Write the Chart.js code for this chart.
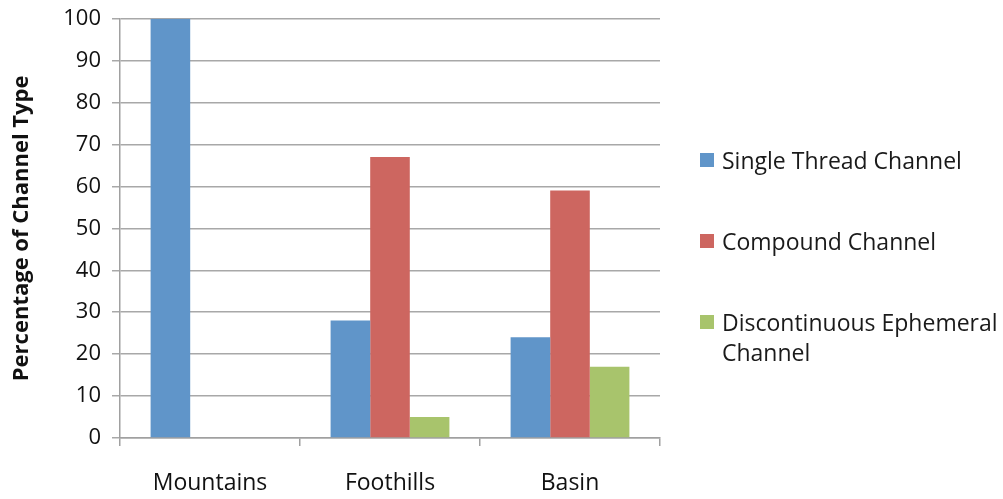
<!DOCTYPE html>
<html>
<head>
<meta charset="utf-8">
<script src="https://cdn.jsdelivr.net/npm/chart.js@4"></script>
<style>
  html, body { margin:0; padding:0; background:#fff; }
  #wrap { position:relative; width:1003px; height:499px; }
  #legend { position:absolute; left:700px; top:0; font-family:"Open Sans", sans-serif; font-size:23px; color:#1a1a1a; }
  .item { position:absolute; left:0; white-space:nowrap; line-height:30px; }
  .sw { position:absolute; left:0; top:8px; width:14px; height:14px; }
  .txt { position:absolute; left:22px; top:0; }
</style>
</head>
<body>
<div id="wrap">
  <canvas id="c" width="1003" height="499"></canvas>
  <div id="legend"></div>
</div>
<script>
const categories = ["Mountains", "Foothills", "Basin"];
const seriesNames = ["Single Thread Channel", "Compound Channel", ["Discontinuous Ephemeral", "Channel"]];
const singleThread = [100, 28, 24];
const compound = [0, 67, 59];
const discontinuous = [0, 5, 17];
const colors = ["#6095c9", "#cd6660", "#a8c46c"];
const yTitle = "Percentage of Channel Type";

const FONT = '"Open Sans", sans-serif';
const seriesData = [singleThread, compound, discontinuous];

const chart = new Chart(document.getElementById('c'), {
  type: 'bar',
  data: {
    labels: categories,
    datasets: seriesData.map((d, i) => ({
      label: Array.isArray(seriesNames[i]) ? seriesNames[i].join(' ') : seriesNames[i],
      data: d,
      backgroundColor: colors[i],
      borderWidth: 0,
      barPercentage: 1.0,
      categoryPercentage: 0.66
    }))
  },
  options: {
    responsive: false,
    animation: false,
    devicePixelRatio: 1,
    layout: { padding: { left: 0, right: 343, top: 15, bottom: 0 } },
    plugins: { legend: { display: false }, tooltip: { enabled: false } },
    scales: {
      x: {
        offset: true,
        grid: { offset: true, drawOnChartArea: false, drawTicks: true, tickLength: 8, color: '#a0a0a0', lineWidth: 1.5 },
        border: { color: '#a0a0a0', width: 1.5 },
        ticks: { font: { family: FONT, size: 23, lineHeight: 1.2 }, color: '#111', padding: 24 },
        afterFit: (s) => { s.height = 61; }
      },
      y: {
        min: 0, max: 100,
        ticks: { stepSize: 10, font: { family: FONT, size: 22, lineHeight: 0.7 }, color: '#111', padding: 11 },
        grid: { color: '#a8a8a8', lineWidth: 1.5, tickLength: 8 },
        border: { color: '#a0a0a0', width: 1.5 },
        title: { display: true, text: yTitle, font: { family: FONT, size: 22, weight: 'bold' }, color: '#111', padding: { top: 9, bottom: 4 } },
        afterFit: (s) => { s.width = 120; }
      }
    }
  }
});

// HTML legend built from the dataset arrays
const legend = document.getElementById('legend');
const tops = [145, 226, 307];
seriesNames.forEach((n, i) => {
  const it = document.createElement('div');
  it.className = 'item';
  it.style.top = tops[i] + 'px';
  const sw = document.createElement('div');
  sw.className = 'sw';
  sw.style.background = colors[i];
  const tx = document.createElement('div');
  tx.className = 'txt';
  tx.innerHTML = (Array.isArray(n) ? n : [n]).join('<br>');
  it.appendChild(sw); it.appendChild(tx);
  legend.appendChild(it);
});
</script>
</body>
</html>
